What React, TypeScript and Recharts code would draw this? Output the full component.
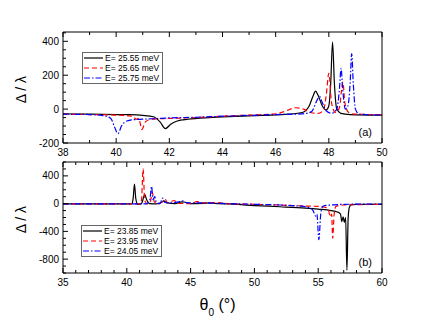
import { LineChart, Line, XAxis, YAxis, Legend } from "recharts";

const font = "'Liberation Sans', Arial, sans-serif";

// panel (a)
const aBlackT = [38, 39, 40, 40.5, 41, 41.4, 41.65, 41.85, 42.05, 42.3, 42.7, 43.5, 44.5, 45.5, 46.5, 47, 47.25, 47.4, 47.5, 47.6, 47.75, 47.9, 48, 48.07, 48.14, 48.21, 48.3, 48.45, 48.8, 50];
const aBlackV = [-28, -30, -32, -33, -37, -45, -75, -115, -90, -70, -60, -50, -43, -37, -30, -20, 15, 75, 106, 80, 20, -5, 20, 150, 396, 150, 0, -25, -32, -35];
const aRedT = [38, 39, 40, 40.5, 40.65, 40.75, 40.85, 40.97, 41.1, 41.3, 42, 43, 44, 45, 46, 46.4, 46.75, 47.05, 47.3, 47.6, 47.8, 47.9, 48, 48.1, 48.25, 48.4, 48.47, 48.53, 48.6, 48.75, 49, 50];
const aRedV = [-30, -32, -35, -40, -45, -60, -55, -120, -75, -60, -55, -50, -42, -35, -28, -10, 8, 0, -20, -25, -5, 80, 211, 40, -20, 10, 100, 160, 40, -20, -30, -33];
const aBlueT = [38, 39, 39.5, 39.8, 39.95, 40.07, 40.2, 40.4, 40.7, 41.2, 42, 43, 44, 45, 46, 47, 47.35, 47.55, 47.65, 47.75, 47.9, 48.1, 48.3, 48.4, 48.46, 48.52, 48.62, 48.72, 48.8, 48.86, 48.92, 49, 49.15, 50];
const aBlueV = [-30, -32, -38, -55, -110, -145, -100, -70, -62, -58, -52, -48, -42, -37, -32, -28, -15, 50, 75, 40, -10, -25, 0, 120, 241, 120, 0, 20, 150, 327, 150, 0, -30, -35];

// panel (b)
const bBlackT = [35, 38, 40, 40.4, 40.5, 40.6, 40.7, 40.85, 41.15, 41.3, 41.4, 41.55, 41.8, 42.3, 42.7, 42.9, 43.1, 43.8, 44.3, 44.6, 45, 46, 46.5, 47.2, 48, 50, 52, 54, 55, 56, 56.5, 56.75, 56.85, 56.95, 57.05, 57.15, 57.25, 57.35, 57.45, 57.6, 58, 60];
const bBlackV = [-5, -5, -5, -5, 80, 283, 80, -10, 0, 80, 135, 60, 0, -5, 15, 40, 15, 0, 25, 20, 0, 5, 10, 0, -5, -28, -45, -65, -80, -100, -120, -150, -260, -190, -270, -200, -960, -200, -50, -15, -10, -10];
const bRedT = [35, 40, 41, 41.15, 41.28, 41.4, 41.6, 41.85, 42, 42.15, 42.4, 42.8, 43, 43.2, 43.5, 43.7, 44, 45, 45.5, 46, 47, 48, 50, 52, 54, 55, 55.5, 55.8, 55.95, 56.05, 56.14, 56.25, 56.4, 57, 60];
const bRedV = [-5, -5, -5, 50, 500, 50, -5, 30, 160, 30, -5, 30, 60, 15, 30, 45, 5, 0, 30, 10, 15, 0, -10, -20, -35, -40, -50, -90, -190, -150, -500, -150, -40, -20, -10];
const bBlueT = [35, 41.5, 41.8, 41.94, 42.05, 42.2, 42.3, 42.6, 42.8, 42.95, 43.3, 44.2, 44.4, 44.7, 45.5, 47, 48, 50, 52, 53.5, 54.3, 54.6, 54.8, 54.9, 55.05, 55.2, 55.35, 55.6, 56, 57, 60];
const bBlueV = [-5, -5, 50, 250, 60, 100, 20, 0, 80, 20, 10, 30, 40, 10, 10, 5, 0, -10, -20, -35, -60, -100, -180, -150, -520, -150, -40, -25, -20, -10, -5];

// ticks
const aTicksX = [38, 39, 40, 41, 42, 43, 44, 45, 46, 47, 48, 49, 50];
const aLabelsX = [38, 40, 42, 44, 46, 48, 50];
const aTicksY = [-200, -150, -100, -50, 0, 50, 100, 150, 200, 250, 300, 350, 400, 450];
const aLabelsY = [-200, 0, 200, 400];
const bTicksX = [35, 36, 37, 38, 39, 40, 41, 42, 43, 44, 45, 46, 47, 48, 49, 50, 51, 52, 53, 54, 55, 56, 57, 58, 59, 60];
const bLabelsX = [35, 40, 45, 50, 55, 60];
const bTicksY = [-1000, -900, -800, -700, -600, -500, -400, -300, -200, -100, 0, 100, 200, 300, 400, 500, 600];
const bLabelsY = [-800, -400, 0, 400];

const toPts = (t: number[], v: number[]) => t.map((x, i) => ({ x, y: v[i] }));

type Series = { name: string; color: string; dash?: string; data: { x: number; y: number }[] };

const aSeries: Series[] = [
  { name: "E= 25.55 meV", color: "#000000", data: toPts(aBlackT, aBlackV) },
  { name: "E= 25.65 meV", color: "#ff0000", dash: "5 3", data: toPts(aRedT, aRedV) },
  { name: "E= 25.75 meV", color: "#0000ff", dash: "6 2 1.5 2", data: toPts(aBlueT, aBlueV) },
];
const bSeries: Series[] = [
  { name: "E= 23.85 meV", color: "#000000", data: toPts(bBlackT, bBlackV) },
  { name: "E= 23.95 meV", color: "#ff0000", dash: "5 3", data: toPts(bRedT, bRedV) },
  { name: "E= 24.05 meV", color: "#0000ff", dash: "6 2 1.5 2", data: toPts(bBlueT, bBlueV) },
];

const xTick = (labels: number[], side: "bottom" | "top") => (props: any) => {
  const { x, y, payload } = props;
  const major = labels.includes(payload.value);
  const len = major ? 5 : 3;
  const dir = side === "bottom" ? -1 : 1;
  return (
    <g>
      <line x1={x} y1={y} x2={x} y2={y + dir * len} stroke="#000" />
      {side === "bottom" && major && (
        <text x={x} y={y + 13} textAnchor="middle" fontSize={10} fontFamily={font} fill="#000">
          {payload.value}
        </text>
      )}
    </g>
  );
};

const yTick = (labels: number[]) => (props: any) => {
  const { x, y, payload } = props;
  const major = labels.includes(payload.value);
  return (
    <g>
      <line x1={x} y1={y} x2={x + (major ? 5 : 3)} y2={y} stroke="#000" />
      {major && (
        <text x={x - 4} y={y + 3.5} textAnchor="end" fontSize={10} fontFamily={font} fill="#000">
          {payload.value}
        </text>
      )}
    </g>
  );
};

const YTitle = (props: any) => {
  const { viewBox } = props;
  const x = viewBox.x - 2;
  const y = viewBox.y + viewBox.height / 2 + 2;
  return (
    <text x={x} y={y} transform={`rotate(-90, ${x}, ${y})`} textAnchor="middle" dominantBaseline="central" fontSize={14} fontFamily={font} fill="#000">
      Δ / λ
    </text>
  );
};

const PanelTag = (props: any) => {
  const { viewBox, text } = props;
  return (
    <text x={viewBox.x - 10} y={viewBox.y + viewBox.height - 7} textAnchor="end" fontSize={11} fontFamily={font} fill="#000">
      {text}
    </text>
  );
};

const XTitle = (props: any) => {
  const { viewBox } = props;
  return (
    <text x={viewBox.x + viewBox.width / 2 - 5} y={viewBox.y + 37} textAnchor="middle" fontSize={16} fontFamily={font} fill="#000">
      θ<tspan fontSize={10} dy={6}>0</tspan>
      <tspan dy={-6}> (°)</tspan>
    </text>
  );
};

const LegendBox = ({ items }: { items: Series[] }) => (
  <div style={{ border: "1px solid #666", background: "#fff", padding: "0 3px 0 1px", fontFamily: font, fontSize: 8.5, lineHeight: "10px", color: "#000" }}>
    {items.map((s) => (
      <div key={s.name} style={{ display: "flex", alignItems: "center", height: 10 }}>
        <svg width={19} height={10}>
          <line x1={0} y1={5} x2={19} y2={5} stroke={s.color} strokeWidth={1.2} strokeDasharray={s.dash} />
        </svg>
        <span style={{ marginLeft: 2, whiteSpace: "nowrap" }}>{s.name}</span>
      </div>
    ))}
  </div>
);

function Panel(props: {
  series: Series[];
  height: number;
  margin: { top: number; right: number; bottom: number; left: number };
  xDomain: [number, number];
  yDomain: [number, number];
  ticksX: number[];
  labelsX: number[];
  ticksY: number[];
  labelsY: number[];
  tag: string;
  legendPos: { left: number; top: number };
  xTitle?: boolean;
}) {
  const p = props;
  return (
    <LineChart width={439} height={p.height} margin={p.margin}>
      <XAxis
        xAxisId="b"
        dataKey="x"
        type="number"
        domain={p.xDomain}
        ticks={p.ticksX}
        interval={0}
        tickSize={0}
        tickMargin={0}
        tickLine={false}
        tick={xTick(p.labelsX, "bottom")}
        height={20}
        stroke="#000"
        allowDataOverflow
        label={p.xTitle ? <XTitle /> : undefined}
      />
      <XAxis
        xAxisId="t"
        dataKey="x"
        orientation="top"
        type="number"
        domain={p.xDomain}
        ticks={p.ticksX}
        interval={0}
        tickSize={0}
        tickMargin={0}
        tickLine={false}
        tick={xTick(p.labelsX, "top")}
        height={1}
        stroke="#000"
        allowDataOverflow
      />
      <YAxis
        yAxisId="l"
        type="number"
        domain={p.yDomain}
        ticks={p.ticksY}
        interval={0}
        tickSize={0}
        tickMargin={0}
        tickLine={false}
        tick={yTick(p.labelsY)}
        width={40}
        stroke="#000"
        allowDataOverflow
        label={<YTitle />}
      />
      <YAxis
        yAxisId="r"
        orientation="right"
        type="number"
        domain={p.yDomain}
        tick={false}
        tickLine={false}
        width={1}
        stroke="#000"
        allowDataOverflow
        label={<PanelTag text={p.tag} />}
      />
      <Legend
        layout="vertical"
        align="center"
        verticalAlign="middle"
        wrapperStyle={{ left: p.legendPos.left, top: p.legendPos.top, width: "auto", height: "auto" }}
        content={() => <LegendBox items={p.series} />}
      />
      {/* invisible copy that binds the top and right axes so the frame is drawn */}
      <Line
        xAxisId="t"
        yAxisId="r"
        data={p.series[0].data}
        dataKey="y"
        stroke="none"
        legendType="none"
        dot={false}
        activeDot={false}
        isAnimationActive={false}
      />
      {p.series.map((s) => (
        <Line
          key={s.name}
          xAxisId="b"
          yAxisId="l"
          data={s.data}
          dataKey="y"
          name={s.name}
          type="monotone"
          stroke={s.color}
          strokeWidth={1.2}
          strokeDasharray={s.dash}
          dot={false}
          activeDot={false}
          isAnimationActive={false}
        />
      ))}
    </LineChart>
  );
}

export default function App() {
  return (
    <div style={{ position: "absolute", left: 0, top: 0, width: 439, height: 332, background: "#fff" }}>
      <div style={{ position: "absolute", left: 0, top: 0 }}>
        <Panel
          series={aSeries}
          height={170}
          margin={{ top: 31, right: 56, bottom: 7, left: 23 }}
          xDomain={[38, 50]}
          yDomain={[-200, 455]}
          ticksX={aTicksX}
          labelsX={aLabelsX}
          ticksY={aTicksY}
          labelsY={aLabelsY}
          tag="(a)"
          legendPos={{ left: 82, top: 52 }}
        />
      </div>
      <div style={{ position: "absolute", left: 0, top: 150 }}>
        <Panel
          series={bSeries}
          height={182}
          margin={{ top: 11, right: 56, bottom: 39, left: 23 }}
          xDomain={[35, 60]}
          yDomain={[-1000, 600]}
          ticksX={bTicksX}
          labelsX={bLabelsX}
          ticksY={bTicksY}
          labelsY={bLabelsY}
          tag="(b)"
          legendPos={{ left: 81, top: 75 }}
          xTitle
        />
      </div>
    </div>
  );
}
